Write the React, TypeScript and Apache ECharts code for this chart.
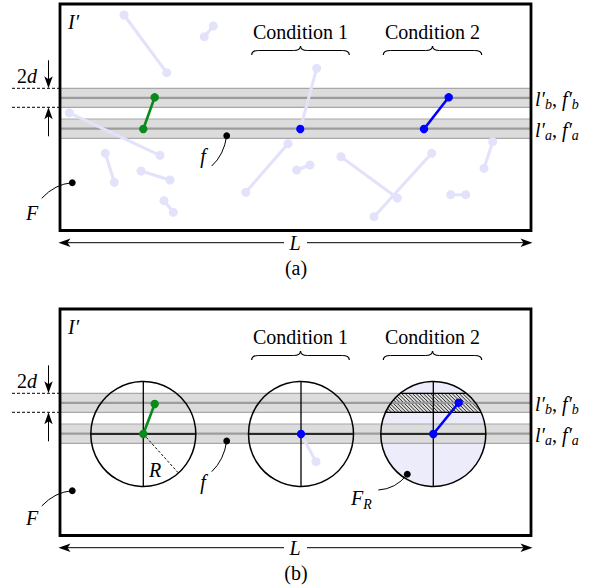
import React, { useEffect, useRef } from "react";
import * as echarts from "echarts";

const WIDTH = 592;
const HEIGHT = 585;

// vertical offsets of panel (a) and panel (b)
const panelOffsets = [0, 305];
const panelLabels = ["(a)", "(b)"];

// frame I'
const boxX = [60, 531];
const boxY = [4, 230.5];

// the two bands l'_b (upper) and l'_a (lower)
const bandTops = [88.3, 119];
const bandMids = [97.8, 128.6];
const bandBottoms = [107.3, 138.3];
const bandSubscripts = ["b", "a"];

// faint (other) fibre segments, panel (a): x1, y1, x2, y2
const faintSegmentsA = [
  [124, 15, 166.7, 72.7],
  [213.3, 26, 204.3, 36.7],
  [69.3, 112.8, 160, 155.3],
  [105.3, 153.3, 114.3, 182.3],
  [141, 171, 170, 180],
  [164, 200.7, 173.3, 212.3],
  [245.7, 192.3, 288, 143.7],
  [296.7, 170, 310, 165],
  [341, 156.7, 397.3, 198],
  [374, 216.7, 431.7, 153.3],
  [450.7, 194.7, 465.7, 194.7],
  [484, 168.3, 492.7, 141.7],
  [300.3, 129, 316.7, 68.3],
];
// faint segments, panel (b)
const faintSegmentsB = [[301, 434, 316, 461.7]];

// highlighted segments
const greenSegA = [143.3, 129, 154.7, 97.3];
const blueSegA = [424, 129, 448.7, 97.3];
const blueDotA = [300.3, 129];
const greenSegB = [143.3, 434, 154.7, 404];
const blueSegB = [433.3, 434, 458.7, 402.7];
const blueDotB = [301, 434];

// circles of radius R in panel (b)
const circleCenters = [
  [143.3, 434],
  [301, 434],
  [433.3, 434],
];
const circleRadius = 52.5;
const radiusAngleDeg = 48;

// black marker dots
const blackDotsA = [
  [226.7, 135.7],
  [72.3, 182.7],
];
const blackDotsB = [
  [226.7, 441],
  [72.3, 490.7],
  [407.3, 474.3],
];
// leader curves: x0, y0, cpx, cpy, x1, y1
const leadersA = [
  [226.7, 135.7, 224, 155, 211.7, 166],
  [72.3, 182.7, 55, 184, 41.7, 198.3],
];
const leadersB = [
  [226.7, 441, 224, 460, 211.7, 471.7],
  [72.3, 490.7, 55, 492, 41.7, 506],
  [407.3, 474.3, 396, 489, 378.3, 490],
];

// braces over the conditions: x0, x1, y of ends
const braces = [
  [251.7, 349.3, 55],
  [383.3, 481.7, 55],
];
const conditionLabels = ["Condition 1", "Condition 2"];
const conditionX = [300.5, 432.5];
const conditionY = 31.5;

const FAMILY = "Liberation Serif";
const FAINT = "#e2e2fa";
const GREEN = "#0a8a1a";
const BLUE = "#0000ff";

let measureCtx: CanvasRenderingContext2D | null = null;
function fontOf(size: number, italic: boolean) {
  return `${italic ? "italic " : ""}${size}px ${FAMILY}`;
}
function textWidth(text: string, size: number, italic: boolean) {
  if (!measureCtx) measureCtx = document.createElement("canvas").getContext("2d");
  if (!measureCtx) return text.length * size * 0.5;
  measureCtx.font = fontOf(size, italic);
  return measureCtx.measureText(text).width;
}

function P(api: any, x: number, y: number) {
  return api.coord([x, y]);
}
function L(api: any, x1: number, y1: number, x2: number, y2: number, style: any) {
  const a = P(api, x1, y1);
  const b = P(api, x2, y2);
  return { type: "line", shape: { x1: a[0], y1: a[1], x2: b[0], y2: b[1] }, style };
}
function DOT(api: any, x: number, y: number, r: number, fill: string) {
  const a = P(api, x, y);
  return { type: "circle", shape: { cx: a[0], cy: a[1], r }, style: { fill } };
}
// text centred vertically on y; horizontal anchor handled by measuring
function T(api: any, text: string, x: number, y: number, size: number, italic: boolean, align = "center") {
  const w = textWidth(text, size, italic);
  const left = align === "center" ? x - w / 2 : align === "right" ? x - w : x;
  const a = P(api, left, y - size / 2);
  return {
    type: "text",
    x: a[0],
    y: a[1],
    style: { text, fill: "#000", font: fontOf(size, italic) },
  };
}

function arrowHead(api: any, tx: number, ty: number, dx: number, dy: number) {
  const len = 12;
  const half = 4.2;
  const nx = -dy;
  const ny = dx;
  const bx = tx - dx * len;
  const by = ty - dy * len;
  const mx = tx - dx * len * 0.75;
  const my = ty - dy * len * 0.75;
  const pts = [
    P(api, tx, ty),
    P(api, bx + nx * half, by + ny * half),
    P(api, mx, my),
    P(api, bx - nx * half, by - ny * half),
  ];
  return { type: "polygon", shape: { points: pts }, style: { fill: "#000" } };
}
function bez(api: any, c: number[], style: any) {
  const a = P(api, c[0], c[1]);
  const q = P(api, c[2], c[3]);
  const b = P(api, c[4], c[5]);
  return {
    type: "bezierCurve",
    shape: { x1: a[0], y1: a[1], cpx1: q[0], cpy1: q[1], x2: b[0], y2: b[1] },
    style: { fill: "none", ...style },
  };
}
function brace(api: any, x0: number, x1: number, yb: number) {
  const ym = yb - 4.5;
  const yt = yb - 9;
  const xc = (x0 + x1) / 2;
  const st = { stroke: "#000", lineWidth: 1.2 };
  return [
    bez(api, [x0, yb, x0, ym, x0 + 7, ym], st),
    L(api, x0 + 7, ym, xc - 7, ym, st),
    bez(api, [xc - 7, ym, xc, ym, xc, yt], st),
    bez(api, [xc, yt, xc, ym, xc + 7, ym], st),
    L(api, xc + 7, ym, x1 - 7, ym, st),
    bez(api, [x1 - 7, ym, x1, ym, x1, yb], st),
  ];
}

function layer(build: (api: any) => any[]) {
  return {
    type: "custom",
    coordinateSystem: "cartesian2d",
    data: [[0, 0]],
    clip: false,
    renderItem: (_p: any, api: any) => ({ type: "group", children: build(api) }),
  };
}

function segmentEls(api: any, s: number[], color: string, lw: number, r: number) {
  return [
    L(api, s[0], s[1], s[2], s[3], { stroke: color, lineWidth: lw, lineCap: "round" }),
    DOT(api, s[0], s[1], r, color),
    DOT(api, s[2], s[3], r, color),
  ];
}

const option = {
  animation: false,
  backgroundColor: "#fff",
  grid: { left: 0, right: 0, top: 0, bottom: 0 },
  xAxis: { type: "value", min: 0, max: WIDTH, show: false },
  yAxis: { type: "value", min: 0, max: HEIGHT, show: false, inverse: true },
  series: [
    // circle fill F_R
    layer((api) => {
      const c = circleCenters[2];
      const a = P(api, c[0], c[1]);
      return [{ type: "circle", shape: { cx: a[0], cy: a[1], r: api.size([circleRadius, 0])[0] }, style: { fill: "#ececfa" } }];
    }),
    // bands
    layer((api) => {
      const els: any[] = [];
      panelOffsets.forEach((off) => {
        for (let i = 0; i < bandTops.length; i++) {
          const a = P(api, boxX[0], bandTops[i] + off);
          const b = P(api, boxX[1], bandBottoms[i] + off);
          els.push({ type: "rect", shape: { x: a[0], y: a[1], width: b[0] - a[0], height: b[1] - a[1] }, style: { fill: "#dcdcdc" } });
          els.push(L(api, boxX[0], bandTops[i] + off, boxX[1], bandTops[i] + off, { stroke: "#a8a8a8", lineWidth: 1.2 }));
          els.push(L(api, boxX[0], bandBottoms[i] + off, boxX[1], bandBottoms[i] + off, { stroke: "#a8a8a8", lineWidth: 1.2 }));
          els.push(L(api, boxX[0], bandMids[i] + off, boxX[1], bandMids[i] + off, { stroke: "#9c9c9c", lineWidth: 2.2 }));
        }
      });
      return els;
    }),
    // faint segments
    layer((api) => {
      const els: any[] = [];
      faintSegmentsA.forEach((s) => els.push(...segmentEls(api, s, FAINT, 3, 4.5)));
      faintSegmentsB.forEach((s) => els.push(...segmentEls(api, s, FAINT, 3, 4.5)));
      return els;
    }),
    // hatch of the upper band inside the third circle
    layer((api) => {
      const els: any[] = [];
      const [cx, cy] = circleCenters[2];
      const R = circleRadius;
      const y1 = bandTops[0] + panelOffsets[1];
      const y2 = bandBottoms[0] + panelOffsets[1];
      const h = y2 - y1;
      const st = { stroke: "#000", lineWidth: 0.8 };
      for (let c = cx - R - h; c <= cx + R; c += 3.6) {
        const a = c - cx;
        const b = y1 - cy;
        const disc = (a + b) * (a + b) - 2 * (a * a + b * b - R * R);
        if (disc < 0) continue;
        let t1 = (-(a + b) - Math.sqrt(disc)) / 2;
        let t2 = (-(a + b) + Math.sqrt(disc)) / 2;
        t1 = Math.max(t1, 0);
        t2 = Math.min(t2, h);
        if (t2 <= t1) continue;
        els.push(L(api, c + t1, y1 + t1, c + t2, y1 + t2, st));
      }
      [y1, y2].forEach((y) => {
        const w = Math.sqrt(R * R - (y - cy) * (y - cy));
        els.push(L(api, cx - w, y, cx + w, y, { stroke: "#000", lineWidth: 1.2 }));
      });
      const ym = bandMids[0] + panelOffsets[1];
      const wm = Math.sqrt(R * R - (ym - cy) * (ym - cy));
      els.push(L(api, cx - wm, ym, cx + wm, ym, { stroke: "#9c9c9c", lineWidth: 2 }));
      return els;
    }),
    // circles with their diameters and the radius
    layer((api) => {
      const els: any[] = [];
      const R = circleRadius;
      const st = { stroke: "#000", lineWidth: 1.3 };
      circleCenters.forEach(([cx, cy]) => {
        const a = P(api, cx, cy);
        els.push({ type: "circle", shape: { cx: a[0], cy: a[1], r: api.size([R, 0])[0] }, style: { fill: "none", stroke: "#000", lineWidth: 1.5 } });
        els.push(L(api, cx - R, cy, cx + R, cy, st));
        els.push(L(api, cx, cy - R, cx, cy + R, st));
      });
      const [cx, cy] = circleCenters[0];
      const ang = (radiusAngleDeg * Math.PI) / 180;
      els.push(L(api, cx, cy, cx + R * Math.cos(ang), cy + R * Math.sin(ang), { stroke: "#000", lineWidth: 1, lineDash: [2.5, 2] }));
      return els;
    }),
    // highlighted segments and black dots
    layer((api) => {
      const els: any[] = [];
      els.push(...segmentEls(api, greenSegA, GREEN, 2.6, 4.2));
      els.push(...segmentEls(api, blueSegA, BLUE, 2.6, 4.2));
      els.push(DOT(api, blueDotA[0], blueDotA[1], 4.2, BLUE));
      els.push(...segmentEls(api, greenSegB, GREEN, 2.6, 4.2));
      els.push(...segmentEls(api, blueSegB, BLUE, 2.6, 4.2));
      els.push(DOT(api, blueDotB[0], blueDotB[1], 4.2, BLUE));
      blackDotsA.forEach((d) => els.push(DOT(api, d[0], d[1], 3.4, "#000")));
      blackDotsB.forEach((d) => els.push(DOT(api, d[0], d[1], 3.4, "#000")));
      return els;
    }),
    // frame, arrows, braces, leaders
    layer((api) => {
      const els: any[] = [];
      const black = { stroke: "#000", lineWidth: 1 };
      panelOffsets.forEach((off) => {
        const a = P(api, boxX[0], boxY[0] + off);
        const b = P(api, boxX[1], boxY[1] + off);
        els.push({ type: "rect", shape: { x: a[0], y: a[1], width: b[0] - a[0], height: b[1] - a[1] }, style: { fill: "none", stroke: "#000", lineWidth: 2.8 } });
        const yL = boxY[1] + off + 12.2;
        els.push(L(api, boxX[0] + 4, yL, 284, yL, black));
        els.push(L(api, 307, yL, boxX[1] - 4, yL, black));
        els.push(arrowHead(api, boxX[0] - 1.5, yL, -1, 0));
        els.push(arrowHead(api, boxX[1] + 1.5, yL, 1, 0));
        const t = bandTops[0] + off;
        const u = bandBottoms[0] + off;
        els.push(L(api, 12, t, boxX[0], t, { stroke: "#000", lineWidth: 1, lineDash: [3, 2] }));
        els.push(L(api, 12, u, boxX[0], u, { stroke: "#000", lineWidth: 1, lineDash: [3, 2] }));
        els.push(L(api, 48.5, t - 28, 48.5, t - 4, black));
        els.push(arrowHead(api, 48.5, t, 0, 1));
        els.push(L(api, 48.5, u + 29, 48.5, u + 4, black));
        els.push(arrowHead(api, 48.5, u, 0, -1));
        braces.forEach((br) => els.push(...brace(api, br[0], br[1], br[2] + off)));
      });
      leadersA.forEach((c) => els.push(bez(api, c, black)));
      leadersB.forEach((c) => els.push(bez(api, c, black)));
      return els;
    }),
    // texts
    layer((api) => {
      const els: any[] = [];
      panelOffsets.forEach((off, k) => {
        const yL = boxY[1] + off + 12.2;
        els.push(T(api, "L", 295, yL, 20, true));
        els.push(T(api, panelLabels[k], 296, yL + 25, 20, false));
        const t = bandTops[0] + off;
        els.push(T(api, "2", 17, t - 12, 20, false, "left"));
        els.push(T(api, "d", 17 + textWidth("2", 20, false), t - 12, 20, true, "left"));
        els.push(T(api, "I′", 68, boxY[0] + off + 18, 20, true, "left"));
        conditionLabels.forEach((lab, i) => els.push(T(api, lab, conditionX[i], conditionY + off, 20, false)));
        bandMids.forEach((ym, i) => {
          const s = bandSubscripts[i];
          const y = ym + off + 1;
          let x = 535;
          els.push(T(api, "l′", x, y, 20, true, "left"));
          x += textWidth("l′", 20, true);
          els.push(T(api, s, x, y + 5.5, 14, true, "left"));
          x += textWidth(s, 14, true);
          els.push(T(api, ",", x, y, 20, false, "left"));
          x += textWidth(", ", 20, false);
          els.push(T(api, "f′", x, y, 20, true, "left"));
          x += textWidth("f′", 20, true);
          els.push(T(api, s, x, y + 5.5, 14, true, "left"));
        });
      });
      els.push(T(api, "f", 203, 156, 20, true));
      els.push(T(api, "F", 32, 213, 20, true));
      els.push(T(api, "f", 203, 482, 20, true));
      els.push(T(api, "F", 32, 518, 20, true));
      els.push(T(api, "R", 155, 470, 20, true));
      els.push(T(api, "F", 351, 498, 20, true, "left"));
      els.push(T(api, "R", 351 + textWidth("F", 20, true), 504, 14, true, "left"));
      return els;
    }),
  ],
};

export default function App() {
  const ref = useRef<HTMLDivElement>(null);
  useEffect(() => {
    const chart = echarts.init(ref.current!, null, { renderer: "svg", width: WIDTH, height: HEIGHT });
    chart.setOption(option as any);
    return () => chart.dispose();
  }, []);
  return (
    <div
      ref={ref}
      style={{ position: "absolute", left: 0, top: 0, width: WIDTH, height: HEIGHT, background: "#fff" }}
    />
  );
}
